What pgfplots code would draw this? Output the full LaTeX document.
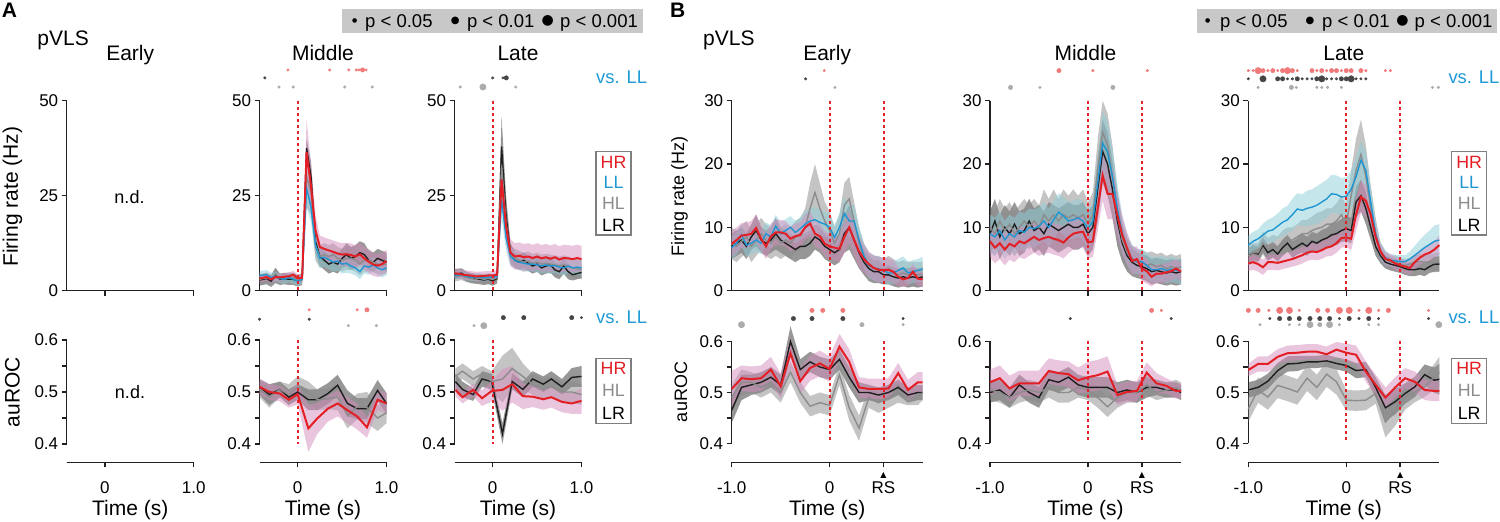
\documentclass[border=0pt]{standalone}
\usepackage{fontspec}
\setmainfont{Liberation Sans}
\newfontfamily\dejavu{DejaVu Sans}
\usepackage{pgfplots}
\pgfplotsset{compat=1.18}
\usepgfplotslibrary{fillbetween}
\usepackage{pgfplotstable}

\definecolor{cHR}{HTML}{E31E24}
\definecolor{cLL}{HTML}{1E96D2}
\definecolor{cHL}{HTML}{8C8C8C}
\definecolor{cLR}{HTML}{1E1E1E}
\definecolor{bHR}{HTML}{D58DBE}
\definecolor{bLL}{HTML}{8CCFDA}
\definecolor{bHL}{HTML}{8A8A8A}
\definecolor{bLR}{HTML}{303030}
\definecolor{dR}{HTML}{F07A7A}
\definecolor{dD}{HTML}{454545}
\definecolor{dG}{HTML}{ABABAB}
\definecolor{vsLL}{HTML}{1E9AD6}
\definecolor{pbox}{HTML}{C8C8C8}
\definecolor{axc}{HTML}{231F20}
\definecolor{legc}{HTML}{7F7F7F}
\definecolor{dashc}{HTML}{E8202A}

\newcommand\ftick{\fontsize{17}{20}\selectfont}
\newcommand\flab{\fontsize{21}{24}\selectfont}
\newcommand\flabB{\fontsize{18}{21}\selectfont}
\newcommand\ftitle{\fontsize{21}{24}\selectfont}
\newcommand\fleg{\fontsize{17.8}{20}\selectfont}
\newcommand\fp{\fontsize{18.5}{22}\selectfont}
\newcommand\fvs{\fontsize{18.4}{22}\selectfont}

% band + mean line
\newcommand{\series}[5]{%
 \addplot[name path=U#2, draw=none, forget plot] table[x=t, y expr=\thisrow{#2}+\thisrow{#2e}] {#1};
 \addplot[name path=L#2, draw=none, forget plot] table[x=t, y expr=\thisrow{#2}-\thisrow{#2e}] {#1};
 \addplot[fill=#3, fill opacity=0.5, draw=none, forget plot] fill between[of=U#2 and L#2];
 \addplot[color=#4, line width=#5, forget plot] table[x=t, y=#2] {#1};
}
% dashed reference line at time #1 from #2 to #3
\newcommand{\refline}[3]{%
 \addplot[draw=dashc, color=dashc, line width=2pt, dash pattern=on 3pt off 3pt, dash phase=0pt, forget plot] coordinates {(#1,#3) (#1,#2)};
}

\pgfplotsset{
  panel/.style={scale only axis, enlargelimits=false, clip=false,
    axis line style={line width=1.4pt, color=axc},
    tick style={line width=1.4pt, color=axc},
    tick align=outside, major tick length=5pt, minor tick length=5pt,
    tick label style={font=\ftick, text=black},
    anchor=south west},
  fr/.style={panel, axis x line*=bottom, axis y line*=left, height=190pt, ymin=0, xticklabels={}},
  frA/.style={fr, width=127pt, xmin=-0.43, xmax=1.0, ymax=50, xtick={0,1}, ytick={0,25,50}, yticklabels={0,25,50}},
  frB/.style={fr, width=191pt, xmin=-1, xmax=0.95, ymax=30, xtick={0,0.55}, ytick={0,10,20,30}, yticklabels={0,10,20,30}},
  roc/.style={panel, axis x line=none, axis y line*=left, ymin=0.4, ymax=0.6, ytick={0.4,0.5,0.6}, yticklabels={0.4,0.5,0.6}, minor ytick={0.45,0.55}},
  rocA/.style={roc, width=127pt, height=104pt, xmin=-0.43, xmax=1.0},
  rocB/.style={roc, width=191pt, height=102pt, xmin=-1, xmax=0.95},
  tax/.style={panel, axis y line=none, axis x line*=bottom, ymin=0, ymax=1, height=1pt, xticklabel style={anchor=base, yshift=-26pt}},
  taxA/.style={tax, width=127pt, xmin=-0.43, xmax=1.0, xtick={0,1}, xticklabels={0,1.0}},
  taxB/.style={tax, width=191pt, xmin=-1, xmax=0.95, xtick={-1,0,0.55}, xticklabels={-1.0,0,{\shortstack{{\dejavu\fontsize{8}{8}\selectfont ▲}\\RS}}}},
  dotS/.style={only marks, mark=*, mark size=1.3pt, forget plot},
  dotM/.style={only marks, mark=*, mark size=2.2pt, forget plot},
  dotL/.style={only marks, mark=*, mark size=3.2pt, forget plot},
}

% ---------------- data ----------------
\pgfplotstableread{
t HR HRe LL LLe HL HLe LR LRe
-0.43 3.2 1.0 4.0 1.2 3.0 1.2 2.8 1.5
-0.35 3.6 1.0 4.2 1.2 3.4 1.2 3.2 1.5
-0.30 3.0 1.0 3.5 1.2 3.0 1.2 2.5 1.5
-0.25 3.6 1.0 3.8 1.2 4.5 1.5 4.0 2.0
-0.20 3.5 1.0 3.2 1.2 3.2 1.2 3.0 1.5
-0.15 3.7 1.0 3.0 1.2 3.4 1.2 3.2 1.5
-0.10 3.8 1.0 3.5 1.2 3.6 1.2 3.0 1.5
-0.05 4.2 1.0 3.0 1.2 3.5 1.2 3.0 1.5
0.00 3.3 1.0 2.5 1.2 2.8 1.2 2.6 1.5
0.05 3.4 1.2 3.0 1.2 3.0 1.2 3.0 1.5
0.10 36.5 8.5 27.0 5.0 30.0 8.0 37.5 2.5
0.15 27.5 6.0 22.0 4.0 26.0 6.0 30.0 4.0
0.20 16.0 4.0 12.0 3.0 12.0 4.0 13.0 3.0
0.25 11.5 3.0 8.5 2.5 9.0 3.0 9.0 2.5
0.30 11.0 3.0 8.8 2.5 9.5 3.0 8.0 2.5
0.35 10.6 3.0 8.2 2.5 9.0 3.0 7.0 2.5
0.40 10.2 3.0 7.5 2.5 9.5 3.0 7.5 2.5
0.45 9.8 3.0 7.8 2.5 8.5 3.0 7.0 2.5
0.50 9.5 3.0 7.0 2.5 8.0 3.0 8.5 2.5
0.55 9.6 3.0 7.2 2.5 8.5 3.0 9.5 3.0
0.60 9.4 3.0 6.5 2.0 8.5 3.0 8.5 3.0
0.65 9.0 3.0 6.0 2.0 8.0 3.0 9.0 3.0
0.70 9.6 3.0 5.0 2.0 7.0 3.0 10.0 3.0
0.75 8.5 3.0 6.5 2.0 8.0 3.0 9.5 3.0
0.80 7.6 3.0 6.2 2.0 8.0 3.0 8.0 2.5
0.85 6.9 3.0 6.8 2.0 7.5 2.5 7.5 2.5
0.90 6.6 3.0 6.0 2.0 7.0 2.5 8.5 2.5
0.95 7.0 3.0 5.5 2.0 6.8 2.5 8.0 2.5
1.00 7.8 3.0 6.0 2.0 7.0 2.5 7.5 2.5
}\tAmF

\pgfplotstableread{
t HR HRe LL LLe HL HLe LR LRe
-0.43 4.6 1.2 4.0 1.0 3.6 1.2 4.4 1.3
-0.35 4.3 1.2 4.2 1.0 4.0 1.2 4.6 1.3
-0.30 4.1 1.2 3.8 1.0 3.5 1.2 3.8 1.3
-0.25 4.0 1.2 3.6 1.0 3.2 1.2 3.4 1.3
-0.20 3.8 1.2 3.5 1.0 3.0 1.2 3.2 1.3
-0.15 3.8 1.2 3.6 1.0 3.3 1.2 3.0 1.3
-0.10 3.9 1.2 3.4 1.0 3.0 1.2 2.8 1.3
-0.05 4.0 1.2 3.6 1.0 3.2 1.2 3.0 1.3
0.00 4.0 1.2 3.5 1.0 3.0 1.2 2.6 1.3
0.05 4.2 1.2 3.8 1.0 3.4 1.2 3.2 1.3
0.10 29.3 6.0 24.0 5.0 33.0 8.0 37.9 8.0
0.15 17.0 4.0 14.0 3.5 18.0 5.0 20.0 5.0
0.20 10.0 3.5 9.0 2.5 9.5 2.5 10.0 2.5
0.25 9.0 3.5 8.0 2.0 8.5 2.5 8.0 2.0
0.30 9.2 3.5 7.5 2.0 8.0 2.5 7.5 2.0
0.35 8.8 3.5 7.2 2.0 7.5 2.5 8.0 2.0
0.40 9.0 3.5 7.0 2.0 7.8 2.5 7.2 2.0
0.45 8.6 3.5 7.0 2.0 7.2 2.5 6.5 2.0
0.50 9.0 3.5 6.8 2.0 7.5 2.5 7.0 2.0
0.55 8.5 3.5 6.5 2.0 7.0 2.5 6.0 2.0
0.60 8.8 3.5 6.8 2.0 7.2 2.5 6.5 2.0
0.65 8.4 3.5 6.5 2.0 7.0 2.5 6.8 2.0
0.70 8.8 3.5 6.6 2.0 6.8 2.5 5.5 2.0
0.75 8.2 3.5 6.2 2.0 6.5 2.5 5.0 2.0
0.80 8.6 3.5 6.0 2.0 6.8 2.5 6.5 2.0
0.85 8.5 3.5 6.5 2.0 6.5 2.5 5.0 2.0
0.90 8.3 3.5 6.0 2.0 6.0 2.5 4.2 1.5
0.95 8.6 3.5 6.2 2.0 5.8 2.5 4.5 1.5
1.00 8.3 3.5 6.0 2.0 5.5 2.5 4.8 1.5
}\tAlF

\pgfplotstableread{
t HR HRe HL HLe LR LRe
-0.43 0.510 0.015 0.505 0.015 0.510 0.015
-0.32 0.500 0.015 0.490 0.020 0.495 0.020
-0.20 0.497 0.015 0.505 0.015 0.505 0.015
-0.10 0.485 0.015 0.495 0.020 0.490 0.015
0.00 0.496 0.020 0.510 0.020 0.500 0.015
0.12 0.430 0.045 0.500 0.020 0.485 0.020
0.22 0.449 0.030 0.485 0.020 0.485 0.020
0.34 0.468 0.025 0.487 0.020 0.497 0.020
0.45 0.478 0.025 0.490 0.025 0.513 0.020
0.56 0.465 0.025 0.455 0.025 0.478 0.025
0.67 0.453 0.025 0.472 0.025 0.468 0.020
0.78 0.432 0.020 0.470 0.030 0.468 0.020
0.90 0.485 0.020 0.450 0.025 0.503 0.020
1.00 0.478 0.020 0.460 0.020 0.478 0.020
}\tAmR

\pgfplotstableread{
t HR HRe HL HLe LR LRe
-0.42 0.504 0.012 0.530 0.015 0.520 0.015
-0.34 0.490 0.012 0.540 0.015 0.505 0.015
-0.22 0.504 0.012 0.525 0.015 0.495 0.012
-0.12 0.488 0.015 0.535 0.015 0.525 0.015
-0.01 0.502 0.020 0.520 0.020 0.520 0.015
0.11 0.504 0.040 0.525 0.045 0.420 0.020
0.22 0.515 0.035 0.545 0.040 0.520 0.015
0.34 0.492 0.025 0.530 0.025 0.505 0.015
0.45 0.491 0.020 0.515 0.020 0.525 0.015
0.57 0.486 0.020 0.505 0.020 0.515 0.015
0.66 0.490 0.020 0.510 0.020 0.525 0.015
0.78 0.481 0.020 0.500 0.020 0.510 0.015
0.89 0.478 0.020 0.500 0.020 0.528 0.018
1.00 0.483 0.025 0.495 0.020 0.530 0.020
}\tAlR

\pgfplotstableread{
t HR HRe LL LLe HL HLe LR LRe
-1.00 7.4 2.0 6.8 1.8 7.5 2.5 7.0 2.0
-0.95 8.0 2.0 7.5 1.8 7.0 2.5 7.5 2.0
-0.90 8.7 2.0 8.8 1.8 7.8 2.5 8.0 2.0
-0.85 8.8 2.0 7.2 1.8 8.5 2.5 7.0 2.0
-0.80 9.0 2.0 7.5 1.8 7.0 2.5 8.5 2.0
-0.75 9.9 2.2 8.0 1.8 8.0 2.5 9.5 2.5
-0.70 8.2 2.0 7.5 1.8 9.0 2.5 8.0 2.0
-0.65 7.0 2.0 9.0 1.8 8.0 2.5 7.5 2.0
-0.60 8.6 2.0 8.5 1.8 7.5 2.5 8.0 2.0
-0.55 9.2 2.0 10.2 1.8 8.5 3.0 9.0 2.5
-0.50 9.2 2.0 9.0 1.8 7.5 2.5 8.0 2.0
-0.45 9.0 2.0 9.5 1.8 8.0 2.5 7.5 2.0
-0.40 8.2 2.0 10.0 1.8 7.5 2.5 7.0 2.0
-0.35 8.6 2.0 9.2 1.8 8.5 2.5 6.5 2.0
-0.30 8.8 2.0 9.8 1.8 9.0 2.5 7.0 2.0
-0.25 10.0 2.0 10.5 2.0 10.0 3.0 7.0 2.0
-0.20 10.6 2.0 11.0 2.0 13.0 4.0 7.5 2.0
-0.15 9.0 2.0 11.2 2.0 15.5 4.5 8.5 2.0
-0.10 8.6 2.0 10.8 2.0 13.0 4.0 8.0 2.0
-0.05 7.4 2.0 10.5 2.0 11.0 3.0 7.0 2.0
0.00 7.0 2.0 10.0 2.0 9.5 3.0 6.5 2.0
0.05 6.8 2.0 8.4 2.0 7.5 2.5 6.0 2.0
0.10 6.6 2.0 10.0 2.2 9.0 3.0 6.5 2.0
0.15 8.5 2.5 12.2 2.5 13.5 3.5 9.0 3.0
0.20 10.0 2.5 11.0 2.5 14.5 3.5 10.0 3.5
0.25 8.0 2.5 11.0 2.5 11.0 3.0 8.0 3.0
0.30 6.2 2.5 8.0 2.2 7.5 2.5 6.0 2.5
0.35 5.0 2.2 5.5 2.0 5.0 2.5 4.5 2.0
0.40 4.2 2.0 4.0 2.0 4.0 2.0 3.5 2.0
0.45 3.6 2.0 3.6 2.0 3.5 2.0 3.0 1.8
0.50 3.3 2.0 3.4 2.0 3.5 2.0 3.0 1.8
0.55 3.3 2.0 3.2 1.8 3.0 2.0 2.5 1.5
0.60 3.3 1.8 2.8 1.8 3.5 2.0 2.5 1.5
0.65 3.0 1.8 2.8 1.8 3.0 2.0 2.2 1.5
0.70 2.2 1.5 3.2 1.8 2.5 2.0 2.0 1.5
0.75 1.8 1.2 3.6 1.8 2.8 2.0 2.2 1.5
0.80 2.0 1.2 2.8 1.8 2.5 2.0 2.0 1.5
0.85 3.0 1.2 3.0 1.8 2.6 2.0 2.2 1.5
0.90 1.9 1.2 3.2 1.8 2.5 2.0 2.0 1.5
0.95 1.8 1.2 3.4 2.0 2.6 2.0 2.2 1.5
}\tBeF

\pgfplotstableread{
t HR HRe LL LLe HL HLe LR LRe
-1.00 7.8 2.5 9.0 3.0 10.0 3.5 9.0 3.5
-0.95 6.8 2.5 8.5 3.0 9.0 3.5 11.0 3.5
-0.90 7.5 2.5 9.5 3.0 11.0 3.5 8.5 3.5
-0.85 6.5 2.5 8.0 3.0 9.5 3.5 10.0 3.5
-0.80 7.4 2.5 9.0 3.0 10.5 3.5 9.0 3.5
-0.75 7.0 2.5 8.5 3.0 9.0 3.5 10.5 3.5
-0.70 7.8 2.5 9.5 3.0 10.0 3.5 9.0 3.5
-0.65 7.5 2.5 9.2 3.0 11.0 3.5 9.5 3.5
-0.60 8.0 2.5 10.0 3.0 10.0 3.5 11.0 3.5
-0.55 8.5 2.5 9.8 3.0 11.0 3.5 9.5 3.5
-0.50 8.0 2.5 10.2 3.0 10.0 3.5 10.0 3.5
-0.45 8.3 2.5 11.0 3.0 12.0 4.0 9.0 3.5
-0.40 8.5 2.5 10.0 3.0 11.0 3.5 10.5 3.5
-0.35 8.2 2.5 11.2 3.0 12.0 4.0 10.0 3.5
-0.30 8.0 2.5 12.4 3.0 11.0 3.5 9.5 3.5
-0.25 7.6 2.5 11.8 3.0 12.0 4.0 10.0 3.5
-0.20 8.4 2.5 11.0 3.0 11.5 3.5 10.5 3.5
-0.15 9.0 2.5 11.2 3.0 12.0 4.0 10.0 3.5
-0.10 9.2 2.5 11.5 3.0 11.5 3.5 10.0 3.5
-0.05 9.3 2.5 11.0 3.0 12.0 4.0 10.5 3.5
0.00 7.6 2.5 9.8 3.0 10.5 3.5 9.0 3.5
0.05 7.8 2.5 11.0 3.0 12.0 3.5 10.0 3.5
0.10 13.0 3.5 17.0 4.0 19.0 5.0 16.0 5.0
0.15 18.2 4.0 23.3 5.0 25.0 5.0 22.0 5.0
0.20 15.3 4.0 21.9 5.0 23.0 5.0 20.0 5.0
0.25 15.3 4.0 18.0 4.5 18.0 5.0 16.0 4.5
0.30 11.9 3.5 13.0 4.0 12.0 4.0 11.0 4.0
0.35 8.8 3.0 9.0 3.0 8.0 3.0 7.5 3.0
0.40 6.7 2.5 6.5 2.5 6.0 2.5 5.5 2.5
0.45 4.7 2.2 5.0 2.2 5.0 2.2 4.5 2.2
0.50 5.0 2.0 4.6 2.0 4.5 2.0 4.0 2.0
0.55 3.5 2.0 4.6 2.0 4.5 2.0 3.8 2.0
0.60 3.1 2.0 4.0 2.0 4.0 2.0 3.5 2.0
0.65 2.2 1.5 3.3 2.0 4.2 2.0 3.0 2.0
0.70 2.7 1.5 3.3 2.0 3.8 2.0 3.2 2.0
0.75 2.7 1.5 3.5 2.0 4.0 2.0 3.0 2.0
0.80 2.9 1.5 3.2 2.0 3.5 2.0 2.8 2.0
0.85 3.1 1.5 3.4 2.0 3.8 2.0 3.0 2.0
0.90 3.5 1.5 3.2 2.0 3.5 2.0 2.8 2.0
0.95 3.0 1.5 3.0 2.0 3.8 2.0 3.0 2.0
}\tBmF

\pgfplotstableread{
t HR HRe LL LLe HL HLe LR LRe
-1.00 4.3 1.2 7.2 1.5 5.5 1.5 5.5 1.2
-0.95 4.5 1.2 7.8 1.5 6.0 1.5 6.0 1.2
-0.90 4.2 1.2 8.2 1.5 6.0 1.5 5.8 1.2
-0.85 3.7 1.2 8.8 1.8 7.5 1.8 7.2 1.2
-0.80 4.5 1.2 9.4 1.8 6.5 1.8 6.0 1.2
-0.75 4.5 1.2 9.6 2.0 7.0 1.8 6.5 1.2
-0.70 4.4 1.2 10.2 2.0 6.8 1.8 5.8 1.2
-0.65 4.6 1.2 10.8 2.2 7.5 2.0 6.8 1.3
-0.60 4.8 1.2 11.2 2.2 8.0 2.0 7.5 1.3
-0.55 5.0 1.2 12.0 2.5 8.0 2.0 6.5 1.3
-0.50 5.3 1.3 12.9 2.5 8.5 2.0 7.0 1.3
-0.45 5.6 1.3 12.7 2.5 9.0 2.2 7.5 1.5
-0.40 6.0 1.3 13.0 2.8 9.0 2.2 7.0 1.5
-0.35 6.2 1.3 13.2 2.8 9.5 2.2 7.8 1.5
-0.30 6.1 1.3 13.5 3.0 9.8 2.5 7.5 1.5
-0.25 6.4 1.4 14.0 3.0 10.0 2.5 8.0 1.6
-0.20 6.8 1.4 14.5 3.0 10.5 2.5 8.3 1.6
-0.15 7.0 1.5 15.3 3.0 10.5 2.5 8.8 1.8
-0.10 7.5 1.5 15.2 3.0 11.0 2.8 9.0 1.8
-0.05 8.3 1.5 14.8 3.0 12.0 3.0 9.5 1.8
0.00 8.4 1.5 14.9 3.0 10.5 3.0 9.8 2.0
0.05 8.2 1.8 16.0 3.0 15.0 4.0 9.5 2.0
0.10 12.0 2.5 18.0 3.0 19.0 5.0 14.0 2.5
0.15 14.8 2.5 20.6 3.0 21.5 5.5 15.0 2.5
0.20 14.2 2.5 19.0 3.0 18.0 5.0 13.0 2.5
0.25 12.0 2.0 14.0 2.5 13.0 3.5 10.0 2.0
0.30 8.5 1.5 9.0 2.0 9.0 2.5 7.0 1.5
0.35 6.2 1.2 6.2 1.5 6.0 1.5 5.5 1.2
0.40 5.0 1.0 5.2 1.2 5.0 1.2 4.5 1.0
0.45 4.8 1.0 4.8 1.0 4.5 1.0 4.2 1.0
0.50 4.3 1.0 4.7 1.0 4.6 1.0 4.0 1.0
0.55 4.0 1.0 4.6 1.0 4.2 1.0 3.8 1.0
0.60 3.8 1.0 4.6 1.0 4.0 1.0 3.5 1.0
0.65 3.6 1.0 5.0 1.2 4.2 1.0 3.3 1.0
0.70 4.5 1.0 5.6 1.5 4.5 1.2 3.3 1.0
0.75 5.2 1.2 6.2 1.8 4.6 1.2 3.5 1.0
0.80 5.7 1.2 6.8 2.0 4.5 1.2 3.3 1.0
0.85 6.0 1.2 7.3 2.2 4.5 1.2 3.8 1.0
0.90 6.5 1.3 7.8 2.5 4.4 1.5 4.2 1.2
0.95 7.2 1.5 8.0 2.5 4.5 1.5 4.2 1.2
}\tBlF

\pgfplotstableread{
t HR HRe HL HLe LR LRe
-1.00 0.507 0.035 0.490 0.025 0.465 0.025
-0.90 0.528 0.025 0.520 0.025 0.510 0.025
-0.80 0.526 0.025 0.520 0.020 0.515 0.020
-0.70 0.528 0.025 0.510 0.020 0.520 0.020
-0.60 0.545 0.025 0.520 0.020 0.530 0.020
-0.50 0.512 0.025 0.500 0.020 0.515 0.020
-0.40 0.577 0.030 0.540 0.020 0.600 0.030
-0.30 0.522 0.025 0.500 0.020 0.545 0.020
-0.20 0.548 0.025 0.473 0.020 0.560 0.020
-0.10 0.557 0.025 0.480 0.020 0.550 0.020
0.00 0.546 0.025 0.475 0.020 0.545 0.020
0.10 0.590 0.025 0.535 0.020 0.565 0.020
0.20 0.560 0.025 0.470 0.025 0.530 0.020
0.30 0.510 0.020 0.430 0.025 0.500 0.020
0.40 0.507 0.020 0.490 0.020 0.500 0.015
0.50 0.507 0.020 0.480 0.020 0.495 0.015
0.60 0.508 0.020 0.490 0.020 0.500 0.015
0.70 0.538 0.020 0.500 0.020 0.510 0.015
0.80 0.505 0.020 0.490 0.015 0.495 0.015
0.90 0.520 0.020 0.490 0.015 0.500 0.015
0.95 0.520 0.020 0.500 0.015 0.500 0.015
}\tBeR

\pgfplotstableread{
t HR HRe HL HLe LR LRe
-1.00 0.520 0.025 0.505 0.020 0.500 0.020
-0.90 0.528 0.025 0.500 0.020 0.505 0.020
-0.80 0.508 0.025 0.490 0.020 0.490 0.020
-0.70 0.518 0.025 0.500 0.020 0.515 0.020
-0.60 0.518 0.025 0.505 0.020 0.500 0.020
-0.50 0.518 0.025 0.500 0.020 0.490 0.020
-0.40 0.542 0.025 0.510 0.020 0.525 0.020
-0.30 0.538 0.025 0.500 0.020 0.520 0.020
-0.20 0.536 0.025 0.500 0.020 0.530 0.020
-0.10 0.524 0.025 0.510 0.020 0.515 0.020
0.00 0.530 0.030 0.505 0.020 0.510 0.020
0.10 0.534 0.030 0.490 0.020 0.510 0.020
0.20 0.541 0.030 0.472 0.020 0.510 0.020
0.30 0.495 0.020 0.490 0.020 0.500 0.020
0.40 0.501 0.020 0.500 0.020 0.505 0.020
0.50 0.503 0.020 0.500 0.020 0.500 0.020
0.60 0.539 0.020 0.515 0.020 0.510 0.020
0.70 0.518 0.020 0.500 0.015 0.510 0.015
0.80 0.513 0.015 0.505 0.015 0.505 0.015
0.90 0.503 0.015 0.510 0.015 0.505 0.015
0.95 0.503 0.015 0.505 0.015 0.500 0.015
}\tBmR

\pgfplotstableread{
t HR HRe HL HLe LR LRe
-1.00 0.544 0.012 0.468 0.025 0.505 0.015
-0.90 0.556 0.015 0.505 0.025 0.510 0.015
-0.80 0.556 0.015 0.491 0.025 0.522 0.015
-0.70 0.570 0.015 0.514 0.025 0.543 0.015
-0.60 0.577 0.015 0.508 0.025 0.556 0.015
-0.50 0.578 0.015 0.501 0.025 0.557 0.015
-0.40 0.580 0.015 0.528 0.025 0.560 0.012
-0.30 0.580 0.015 0.510 0.025 0.560 0.012
-0.20 0.575 0.015 0.536 0.025 0.562 0.012
-0.10 0.584 0.015 0.521 0.025 0.557 0.012
0.00 0.578 0.018 0.485 0.020 0.553 0.012
0.10 0.574 0.018 0.484 0.020 0.543 0.015
0.20 0.541 0.020 0.485 0.020 0.545 0.015
0.30 0.515 0.020 0.498 0.020 0.510 0.020
0.40 0.490 0.020 0.442 0.030 0.470 0.025
0.50 0.510 0.020 0.465 0.030 0.482 0.025
0.60 0.528 0.020 0.491 0.025 0.498 0.020
0.70 0.521 0.020 0.501 0.020 0.511 0.020
0.80 0.505 0.020 0.511 0.020 0.535 0.020
0.90 0.503 0.020 0.531 0.025 0.524 0.025
0.95 0.503 0.020 0.540 0.030 0.526 0.030
}\tBlR

\begin{document}
\begin{tikzpicture}[x=1pt,y=1pt]
\path (0,0) rectangle (1500,522);

% ================= PANEL A =================
% --- Early (n.d.)
\begin{axis}[frA, at={(66.7pt,231.3pt)}]
\addplot[draw=none, forget plot] coordinates {(0,0)};
\end{axis}
\begin{axis}[rocA, at={(66.7pt,78pt)}]
\addplot[draw=none, forget plot] coordinates {(0,0.5)};
\end{axis}
\begin{axis}[taxA, at={(66.7pt,59.7pt)}]
\addplot[draw=none, forget plot] coordinates {(0,0)};
\end{axis}

% --- Middle
\begin{axis}[frA, at={(259.5pt,231.3pt)}]
\series{\tAmF}{LR}{bLR}{cLR}{1.4pt}
\series{\tAmF}{HL}{bHL}{cHL}{1.4pt}
\series{\tAmF}{LL}{bLL}{cLL}{1.4pt}
\series{\tAmF}{HR}{bHR}{cHR}{2pt}
\refline{0}{0}{50}
\addplot[dotS, dR] coordinates {(-0.11,58.1) (0.36,58.1) (0.575,58.1) (0.66,58.1) (0.69,58.1) (0.77,58.1)};
\addplot[dotM, dR] coordinates {(0.73,58.1)};
\addplot[dotS, dD] coordinates {(-0.37,56.0)};
\addplot[dotS, dG] coordinates {(-0.21,53.6) (-0.05,53.6) (0.53,53.6) (0.84,53.6)};
\end{axis}
\begin{axis}[rocA, at={(259.5pt,78pt)}]
\series{\tAmR}{LR}{bLR}{cLR}{1.4pt}
\series{\tAmR}{HL}{bHL}{cHL}{1.4pt}
\series{\tAmR}{HR}{bHR}{cHR}{2pt}
\refline{0}{0.4}{0.6}
\addplot[dotS, dR] coordinates {(0.13,0.658) (0.67,0.658)};
\addplot[dotM, dR] coordinates {(0.78,0.658)};
\addplot[dotS, dD] coordinates {(-0.43,0.640) (0.13,0.640)};
\addplot[dotS, dG] coordinates {(0.57,0.6275) (0.885,0.6275)};
\end{axis}
\begin{axis}[taxA, at={(259.5pt,59.7pt)}]
\addplot[draw=none, forget plot] coordinates {(0,0)};
\end{axis}

% --- Late
\begin{axis}[frA, at={(454.5pt,231.3pt)}]
\series{\tAlF}{LR}{bLR}{cLR}{1.4pt}
\series{\tAlF}{HL}{bHL}{cHL}{1.4pt}
\series{\tAlF}{LL}{bLL}{cLL}{1.4pt}
\series{\tAlF}{HR}{bHR}{cHR}{2pt}
\refline{0}{0}{50}
\addplot[dotS, dD] coordinates {(0.0,56.0) (0.116,56.0)};
\addplot[dotM, dD] coordinates {(0.153,56.0)};
\addplot[dotS, dG] coordinates {(-0.365,53.6) (0.26,53.6)};
\addplot[dotL, dG] coordinates {(-0.11,53.6)};
\end{axis}
\begin{axis}[rocA, at={(454.5pt,78pt)}]
\series{\tAlR}{LR}{bLR}{cLR}{1.4pt}
\series{\tAlR}{HL}{bHL}{cHL}{1.4pt}
\series{\tAlR}{HR}{bHR}{cHR}{2pt}
\refline{0}{0.4}{0.6}
\addplot[dotM, dD] coordinates {(0.12,0.643) (0.35,0.643) (0.89,0.643)};
\addplot[dotS, dD] coordinates {(1.0,0.643)};
\addplot[dotS, dG] coordinates {(-0.21,0.6275)};
\addplot[dotL, dG] coordinates {(-0.10,0.6275)};
\end{axis}
\begin{axis}[taxA, at={(454.5pt,59.7pt)}]
\addplot[draw=none, forget plot] coordinates {(0,0)};
\end{axis}

% ================= PANEL B =================
% --- Early
\begin{axis}[frB, at={(731.7pt,231.3pt)}]
\series{\tBeF}{LR}{bLR}{cLR}{1.4pt}
\series{\tBeF}{HL}{bHL}{cHL}{1.4pt}
\series{\tBeF}{LL}{bLL}{cLL}{1.4pt}
\series{\tBeF}{HR}{bHR}{cHR}{2pt}
\refline{0}{0}{30}
\refline{0.552}{0}{30}
\addplot[dotS, dR] coordinates {(-0.055,34.75)};
\addplot[dotS, dD] coordinates {(-0.245,33.45)};
\addplot[dotS, dG] coordinates {(0.054,32.1)};
\end{axis}
\begin{axis}[rocB, at={(731.7pt,78.5pt)}]
\series{\tBeR}{LR}{bLR}{cLR}{1.4pt}
\series{\tBeR}{HL}{bHL}{cHL}{1.4pt}
\series{\tBeR}{HR}{bHR}{cHR}{2pt}
\refline{0}{0.4}{0.6}
\refline{0.552}{0.4}{0.6}
\addplot[dotM, dR] coordinates {(-0.18,0.661) (-0.07,0.661) (0.135,0.661)};
\addplot[dotM, dD] coordinates {(-0.37,0.645) (-0.18,0.645) (0.135,0.645)};
\addplot[dotS, dD] coordinates {(0.75,0.645)};
\addplot[dotL, dG] coordinates {(-0.9,0.633)};
\addplot[dotM, dG] coordinates {(0.33,0.633)};
\addplot[dotS, dG] coordinates {(0.75,0.633)};
\end{axis}
\begin{axis}[taxB, at={(731.7pt,59.7pt)}]
\addplot[draw=none, forget plot] coordinates {(0,0)};
\end{axis}

% --- Middle
\begin{axis}[frB, at={(990pt,231.3pt)}]
\series{\tBmF}{LR}{bLR}{cLR}{1.4pt}
\series{\tBmF}{HL}{bHL}{cHL}{1.4pt}
\series{\tBmF}{LL}{bLL}{cLL}{1.4pt}
\series{\tBmF}{HR}{bHR}{cHR}{2pt}
\refline{0}{0}{30}
\refline{0.55}{0}{30}
\addplot[dotM, dR] coordinates {(-0.296,34.75)};
\addplot[dotS, dR] coordinates {(0.05,34.75) (0.606,34.75)};
\addplot[dotM, dG] coordinates {(-0.79,32.1) (0.255,32.1)};
\addplot[dotS, dG] coordinates {(-0.49,32.1)};
\end{axis}
\begin{axis}[rocB, at={(990pt,78.5pt)}]
\series{\tBmR}{LR}{bLR}{cLR}{1.4pt}
\series{\tBmR}{HL}{bHL}{cHL}{1.4pt}
\series{\tBmR}{HR}{bHR}{cHR}{2pt}
\refline{0}{0.4}{0.6}
\refline{0.55}{0.4}{0.6}
\addplot[dotM, dR] coordinates {(0.65,0.661)};
\addplot[dotS, dR] coordinates {(0.75,0.661)};
\addplot[dotS, dD] coordinates {(-0.18,0.645) (0.85,0.645)};
\end{axis}
\begin{axis}[taxB, at={(990pt,59.7pt)}]
\addplot[draw=none, forget plot] coordinates {(0,0)};
\end{axis}

% --- Late
\begin{axis}[frB, at={(1248.3pt,231.3pt)}]
\series{\tBlF}{LR}{bLR}{cLR}{1.4pt}
\series{\tBlF}{HL}{bHL}{cHL}{1.4pt}
\series{\tBlF}{LL}{bLL}{cLL}{1.4pt}
\series{\tBlF}{HR}{bHR}{cHR}{2pt}
\refline{0}{0}{30}
\refline{0.55}{0}{30}
\addplot[dotS, dR] coordinates {(-1.0,34.75) (-0.95,34.75) (-0.8,34.75) (-0.7,34.75) (-0.5,34.75) (-0.3,34.75) (-0.2,34.75) (-0.05,34.75) (0.2,34.75) (0.4,34.75) (0.45,34.75)};
\addplot[dotM, dR] coordinates {(-0.85,34.75) (-0.75,34.75) (-0.65,34.75) (-0.55,34.75) (-0.35,34.75) (-0.25,34.75) (-0.15,34.75) (-0.1,34.75) (0.0,34.75) (0.05,34.75) (0.15,34.75)};
\addplot[dotL, dR] coordinates {(-0.9,34.75) (-0.6,34.75)};
\addplot[dotS, dD] coordinates {(-1.0,33.45) (-0.6,33.45) (-0.55,33.45) (-0.45,33.45) (-0.4,33.45) (-0.35,33.45) (-0.2,33.45) (-0.15,33.45) (-0.1,33.45) (0.1,33.45) (0.15,33.45) (0.2,33.45)};
\addplot[dotM, dD] coordinates {(-0.7,33.45) (-0.65,33.45) (-0.5,33.45) (-0.3,33.45) (-0.05,33.45) (0.0,33.45)};
\addplot[dotL, dD] coordinates {(-0.85,33.45) (-0.25,33.45) (0.05,33.45)};
\addplot[dotS, dG] coordinates {(-0.9,32.1) (-0.51,32.1) (-0.30,32.1) (-0.25,32.1) (-0.19,32.1) (-0.05,32.1) (0.88,32.1) (0.94,32.1)};
\addplot[dotM, dG] coordinates {(-0.56,32.1)};
\end{axis}
\begin{axis}[rocB, at={(1248.3pt,78.5pt)}]
\series{\tBlR}{LR}{bLR}{cLR}{1.4pt}
\series{\tBlR}{HL}{bHL}{cHL}{1.4pt}
\series{\tBlR}{HR}{bHR}{cHR}{2pt}
\refline{0}{0.4}{0.6}
\refline{0.55}{0.4}{0.6}
\addplot[dotM, dR] coordinates {(-1.0,0.661) (-0.9,0.661) (-0.29,0.661) (-0.19,0.661) (0.43,0.661)};
\addplot[dotS, dR] coordinates {(-0.79,0.661) (-0.48,0.661) (0.13,0.661) (0.33,0.661) (0.84,0.661)};
\addplot[dotL, dR] coordinates {(-0.68,0.661) (-0.58,0.661) (-0.07,0.661) (0.03,0.661) (0.23,0.661)};
\addplot[dotS, dD] coordinates {(-0.78,0.645) (-0.07,0.645) (0.13,0.645) (0.33,0.645) (0.84,0.645)};
\addplot[dotM, dD] coordinates {(-0.68,0.645) (-0.58,0.645) (-0.48,0.645) (-0.37,0.645) (-0.27,0.645) (-0.17,0.645) (0.03,0.645) (0.23,0.645)};
\addplot[dotS, dG] coordinates {(-0.88,0.633) (-0.58,0.633) (-0.48,0.633) (-0.07,0.633) (0.23,0.633) (0.33,0.633)};
\addplot[dotM, dG] coordinates {(-0.27,0.633)};
\addplot[dotL, dG] coordinates {(-0.37,0.633) (-0.17,0.633) (0.945,0.633)};
\end{axis}
\begin{axis}[taxB, at={(1248.3pt,59.7pt)}]
\addplot[draw=none, forget plot] coordinates {(0,0)};
\end{axis}

% ================= TEXT =================
\node[anchor=north west, inner sep=0, font=\fontsize{21}{24}\selectfont\bfseries] at (1.7,518.7) {A};
\node[anchor=north west, inner sep=0, font=\fontsize{21}{24}\selectfont\bfseries] at (670,518.7) {B};
\node[anchor=base west, inner sep=0, font=\ftitle] at (37.3,476) {pVLS};
\node[anchor=base west, inner sep=0, font=\ftitle] at (703,476) {pVLS};
\foreach \cx/\tt in {130.2/Early, 323/Middle, 518/Late, 827.2/Early, 1085.5/Middle, 1343.8/Late}
  \node[anchor=base, inner sep=0, font=\ftitle] at (\cx,461.5) {\tt};
\foreach \cx in {130.2, 323, 518, 827.2, 1085.5, 1343.8}
  \node[anchor=base, inner sep=0, font=\flab] at (\cx,6) {Time (s)};
\node[rotate=90, font=\flab] at (12.5,325.3) {Firing rate (Hz)};
\node[rotate=90, font=\flab] at (12.4,130) {auROC};
\node[rotate=90, font=\flabB] at (679.5,325.3) {Firing rate (Hz)};
\node[rotate=90, font=\flabB] at (681,130) {auROC};
\node[font=\fontsize{18}{20}\selectfont] at (129.5,324.5) {n.d.};
\node[font=\fontsize{18}{20}\selectfont] at (130,130) {n.d.};

% vs. LL
\node[anchor=base west, inner sep=0, font=\fvs, text=vsLL] at (596,438.7) {vs. LL};
\node[anchor=base west, inner sep=0, font=\fvs, text=vsLL] at (596,198.7) {vs. LL};
\node[anchor=base east, inner sep=0, font=\fvs, text=vsLL] at (1499.5,438.7) {vs. LL};
\node[anchor=base east, inner sep=0, font=\fvs, text=vsLL] at (1499.5,198.7) {vs. LL};

% legends HR/LL/HL/LR
\foreach \lx in {596,1451.7}{
  \draw[legc, line width=1.2pt] (\lx,370.3) rectangle ++(35,-83.3);
  \node[anchor=base, inner sep=0, font=\fleg, text=cHR] at (\lx+17.5,353.7) {HR};
  \node[anchor=base, inner sep=0, font=\fleg, text=cLL] at (\lx+17.5,333.7) {LL};
  \node[anchor=base, inner sep=0, font=\fleg, text=cHL] at (\lx+17.5,312) {HL};
  \node[anchor=base, inner sep=0, font=\fleg, text=black] at (\lx+17.5,290.3) {LR};
  \draw[legc, line width=1.2pt] (\lx,163.7) rectangle ++(35,-65);
  \node[anchor=base, inner sep=0, font=\fleg, text=cHR] at (\lx+17.5,147) {HR};
  \node[anchor=base, inner sep=0, font=\fleg, text=cHL] at (\lx+17.5,125.3) {HL};
  \node[anchor=base, inner sep=0, font=\fleg, text=black] at (\lx+17.5,102.7) {LR};
}

% p-value boxes
\fill[pbox] (342,513) rectangle (643,489);
\fill[pbox] (1197,513) rectangle (1497,489);
\foreach \ax/\bx/\cx/\ta/\tb/\tc in {354.8/455.2/547.7/365/466.8/560, 1207.8/1310/1402.5/1220/1322/1414.5}{
  \node[inner sep=0, font=\dejavu\fontsize{6}{6}\selectfont] at (\ax,501.3) {●};
  \node[inner sep=0, font=\dejavu\fontsize{10}{10}\selectfont] at (\bx,501.3) {●};
  \node[inner sep=0, font=\dejavu\fontsize{14}{14}\selectfont] at (\cx,501.3) {●};
  \node[anchor=base west, inner sep=0, font=\fp] at (\ta,494.5) {p < 0.05};
  \node[anchor=base west, inner sep=0, font=\fp] at (\tb,494.5) {p < 0.01};
  \node[anchor=base west, inner sep=0, font=\fp] at (\tc,494.5) {p < 0.001};
}
\pgfresetboundingbox
\path[use as bounding box] (0,0) rectangle (1500,522);
\end{tikzpicture}
\end{document}
